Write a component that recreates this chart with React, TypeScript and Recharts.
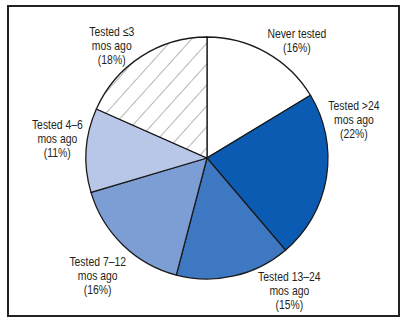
import { PieChart, Pie, Cell } from "recharts";

const categories = [
  "Never tested",
  "Tested >24 mos ago",
  "Tested 13–24 mos ago",
  "Tested 7–12 mos ago",
  "Tested 4–6 mos ago",
  "Tested ≤3 mos ago",
];
const shares = [16, 22, 15, 16, 11, 18];
const labelLines = [
  ["Never tested"],
  ["Tested >24", "mos ago"],
  ["Tested 13–24", "mos ago"],
  ["Tested 7–12", "mos ago"],
  ["Tested 4–6", "mos ago"],
  ["Tested ≤3", "mos ago"],
];

const data = categories.map((name, i) => ({ name, value: shares[i] }));

const fills = ["#ffffff", "#0b5bb3", "#3f78c2", "#7d9dd5", "#b8c7e8", "url(#hatch)"];
// label placement: angle tweak (deg, clockwise) and distance from centre
const labelTweak = [
  { da: 8, r: 148 },
  { da: -24, r: 152 },
  { da: -19, r: 156 },
  { da: -1, r: 160 },
  { da: 4, r: 151 },
  { da: -7, r: 148 },
];

const FONT = "'Liberation Sans', Arial, sans-serif";

function renderLabel(props: any) {
  const { cx, cy, midAngle, index, value } = props;
  const t = labelTweak[index];
  const a = ((midAngle - t.da) * Math.PI) / 180;
  const x = cx + Math.cos(a) * t.r;
  const y = cy - Math.sin(a) * t.r;
  const lines = [...labelLines[index], `(${value}%)`];
  const lh = 14;
  // squeeze horizontally to mimic the condensed face of the original
  return (
    <text
      x={x}
      y={y}
      textAnchor="middle"
      fill="#231f20"
      transform={`translate(${x} 0) scale(0.8 1) translate(${-x} 0)`}
      style={{ fontFamily: FONT, fontSize: 13 }}
    >
      {lines.map((l, i) => (
        <tspan key={i} x={x} y={y + (i - (lines.length - 1) / 2) * lh} dominantBaseline="central">
          {l}
        </tspan>
      ))}
    </text>
  );
}

export default function App() {
  return (
    <div style={{ position: "absolute", left: 0, top: 0, width: 406, height: 324, background: "#fff" }}>
      <div
        style={{
          position: "absolute",
          left: 7,
          top: 5,
          width: 393,
          height: 312,
          border: "2px solid #222",
          boxSizing: "border-box",
        }}
      />
      <div style={{ position: "absolute", left: 0, top: 0 }}>
        <PieChart width={406} height={324}>
          <defs>
            <pattern id="hatch" patternUnits="userSpaceOnUse" width={14} height={14} patternTransform="rotate(42)">
              <rect width={14} height={14} fill="#fff" />
              <line x1={0} y1={0} x2={0} y2={14} stroke="#6e6e6e" strokeWidth={1} />
            </pattern>
          </defs>
          <Pie
            data={data}
            dataKey="value"
            nameKey="name"
            cx={202}
            cy={153}
            outerRadius={121}
            startAngle={90}
            endAngle={-270}
            stroke="#1a1a1a"
            strokeWidth={1.3}
            label={renderLabel}
            labelLine={false}
            isAnimationActive={false}
          >
            {data.map((d, i) => (
              <Cell key={d.name} fill={fills[i]} />
            ))}
          </Pie>
        </PieChart>
      </div>
    </div>
  );
}
